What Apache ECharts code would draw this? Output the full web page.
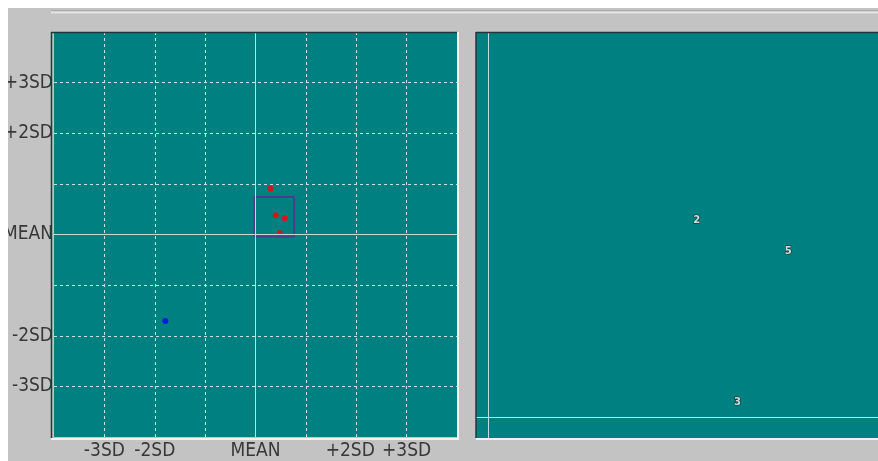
<!DOCTYPE html>
<html>
<head>
<meta charset="utf-8">
<script src="https://cdn.jsdelivr.net/npm/echarts@6/dist/echarts.min.js"></script>
<style>
  html, body { margin: 0; padding: 0; background: #ffffff; }
  #chart { width: 878px; height: 461px; }
</style>
</head>
<body>
<div id="chart"></div>
<script>
// Control chart in SD units: left panel is the full ±4SD field,
// right panel is an enlarged view of the framed window.
const sdTicks = [-4, -3, -2, -1, 0, 1, 2, 3, 4];
const xTickLabels = ['', '-3SD', '-2SD', '', 'MEAN', '', '+2SD', '+3SD', ''];
const yTickLabels = ['', '-3SD', '-2SD', '', 'MEAN', '', '+2SD', '+3SD', ''];

// Sample results (x = first measure, y = second measure, in SD)
const sampleIds = ['1', '2', '3', '5'];
const sampleX = [0.30, 0.40, 0.48, 0.58];
const sampleY = [0.91, 0.38, 0.03, 0.32];

// Result plotted in blue
const otherIds = ['4'];
const otherX = [-1.79];
const otherY = [-1.71];

// Enlarged window (SD units)
const zoomX = [-0.024, 0.766];
const zoomY = [-0.04, 0.74];

const TEAL = '#008080';
const GRID_LINE = '#c8e2e2';
const MEAN_LINE = '#c2dcdc';
const LABEL_FONT = '"Liberation Sans Narrow", "DejaVu Sans Condensed", sans-serif';

const samplePts = sampleX.map((x, i) => ({ name: sampleIds[i], value: [x, sampleY[i]] }));
const otherPts = otherX.map((x, i) => ({ name: otherIds[i], value: [x, otherY[i]] }));
const framePts = [
  [zoomX[0], zoomY[0]], [zoomX[1], zoomY[0]], [zoomX[1], zoomY[1]],
  [zoomX[0], zoomY[1]], [zoomX[0], zoomY[0]]
];
const inWindow = samplePts.filter(p =>
  p.value[0] >= zoomX[0] && p.value[0] <= zoomX[1] &&
  p.value[1] >= zoomY[0] && p.value[1] <= zoomY[1]);

const meanLines = {
  silent: true,
  symbol: 'none',
  label: { show: false },
  lineStyle: { color: MEAN_LINE, type: 'solid', width: 1 },
  data: [{ xAxis: 0 }, { yAxis: 0 }]
};

function tickFmt(labels, tightRight) {
  return function (v) {
    const i = sdTicks.indexOf(Math.round(v));
    if (i < 0 || !labels[i]) return '';
    // the +2SD caption sits a little left of its grid line
    return (tightRight && labels[i] === '+2SD') ? '{shift|' + labels[i] + '}' : labels[i];
  };
}

const chart = echarts.init(document.getElementById('chart'), null, { renderer: 'canvas' });

chart.setOption({
  backgroundColor: '#c3c3c3',
  animation: false,
  grid: [
    { left: 51, top: 32, width: 406, height: 406, show: true, backgroundColor: TEAL, borderWidth: 0 },
    { left: 476, top: 32, width: 406, height: 406, show: true, backgroundColor: TEAL, borderWidth: 0 }
  ],
  xAxis: [
    {
      gridIndex: 0, type: 'value', min: sdTicks[0], max: sdTicks[sdTicks.length - 1], interval: 1,
      axisLine: { show: false }, axisTick: { show: false },
      axisLabel: {
        formatter: tickFmt(xTickLabels, true), color: '#383838', fontSize: 19,
        fontFamily: LABEL_FONT, margin: 5, showMinLabel: true, showMaxLabel: true,
        rich: {
          shift: { color: '#383838', fontSize: 19, fontFamily: LABEL_FONT, padding: [0, 12, 0, 0] }
        }
      },
      splitLine: { show: true, showMinLine: false, showMaxLine: false,
        lineStyle: { color: GRID_LINE, type: [3, 3], width: 1 } }
    },
    {
      gridIndex: 1, type: 'value', min: zoomX[0], max: zoomX[1],
      axisLine: { show: false }, axisTick: { show: false }, axisLabel: { show: false },
      splitLine: { show: false }
    }
  ],
  yAxis: [
    {
      gridIndex: 0, type: 'value', min: sdTicks[0], max: sdTicks[sdTicks.length - 1], interval: 1,
      axisLine: { show: false }, axisTick: { show: false },
      axisLabel: {
        formatter: tickFmt(yTickLabels, false), color: '#383838', fontSize: 19,
        fontFamily: LABEL_FONT, margin: 1, showMinLabel: true, showMaxLabel: true
      },
      splitLine: { show: true, showMinLine: false, showMaxLine: false,
        lineStyle: { color: GRID_LINE, type: [3, 3], width: 1 } }
    },
    {
      gridIndex: 1, type: 'value', min: zoomY[0], max: zoomY[1],
      axisLine: { show: false }, axisTick: { show: false }, axisLabel: { show: false },
      splitLine: { show: false }
    }
  ],
  series: [
    {
      type: 'line', xAxisIndex: 0, yAxisIndex: 0, data: [], markLine: meanLines
    },
    {
      name: 'window', type: 'line', xAxisIndex: 0, yAxisIndex: 0,
      data: framePts, symbol: 'none', silent: true,
      lineStyle: { color: '#4d3c8c', width: 2 }, z: 3
    },
    {
      name: 'samples', type: 'scatter', xAxisIndex: 0, yAxisIndex: 0,
      data: samplePts, symbol: 'circle', symbolSize: 6,
      itemStyle: { color: '#ff0000' }, z: 4
    },
    {
      name: 'other', type: 'scatter', xAxisIndex: 0, yAxisIndex: 0,
      data: otherPts, symbol: 'circle', symbolSize: 6,
      itemStyle: { color: '#0000ff' }, z: 4
    },
    {
      type: 'line', xAxisIndex: 1, yAxisIndex: 1, data: [], markLine: meanLines
    },
    {
      name: 'enlarged', type: 'scatter', xAxisIndex: 1, yAxisIndex: 1,
      data: inWindow, symbolSize: 0,
      label: {
        show: true, position: 'inside', formatter: '{b}', offset: [5, 1],
        color: '#ffffff', fontSize: 10, fontWeight: 'bold', fontFamily: 'DejaVu Sans',
        textBorderColor: '#1b3434', textBorderWidth: 1.5
      }
    }
  ],
  graphic: [
    // white page margin along top and left
    { type: 'rect', shape: { x: 0, y: 0, width: 878, height: 8 }, style: { fill: '#ffffff' }, z: 100 },
    { type: 'rect', shape: { x: 0, y: 0, width: 8, height: 461 }, style: { fill: '#ffffff' }, z: 100 },
    // ruled line under the top margin
    { type: 'line', shape: { x1: 51, y1: 10.5, x2: 878, y2: 10.5 }, style: { stroke: '#a9a9a9', lineWidth: 1 }, z: 100 },
    { type: 'line', shape: { x1: 51, y1: 12.5, x2: 878, y2: 12.5 }, style: { stroke: '#e4e4e4', lineWidth: 2 }, z: 100 },
    // sunken frame of the left panel
    { type: 'line', shape: { x1: 51, y1: 32.5, x2: 457, y2: 32.5 }, style: { stroke: '#1e3a3a', lineWidth: 1.5 }, z: 50 },
    { type: 'line', shape: { x1: 51.5, y1: 32, x2: 51.5, y2: 438 }, style: { stroke: '#1e3a3a', lineWidth: 1.5 }, z: 50 },
    { type: 'line', shape: { x1: 458, y1: 32, x2: 458, y2: 440 }, style: { stroke: '#f2f2f2', lineWidth: 2 }, z: 50 },
    { type: 'line', shape: { x1: 51, y1: 439, x2: 459, y2: 439 }, style: { stroke: '#f2f2f2', lineWidth: 2 }, z: 50 },
    // sunken frame of the right panel
    { type: 'line', shape: { x1: 476, y1: 32.5, x2: 878, y2: 32.5 }, style: { stroke: '#1e3a3a', lineWidth: 1.5 }, z: 50 },
    { type: 'line', shape: { x1: 476, y1: 32, x2: 476, y2: 438 }, style: { stroke: '#1e3a3a', lineWidth: 1.5 }, z: 50 },
    { type: 'line', shape: { x1: 476, y1: 439, x2: 878, y2: 439 }, style: { stroke: '#f2f2f2', lineWidth: 2 }, z: 50 }
  ]
});
</script>
</body>
</html>
